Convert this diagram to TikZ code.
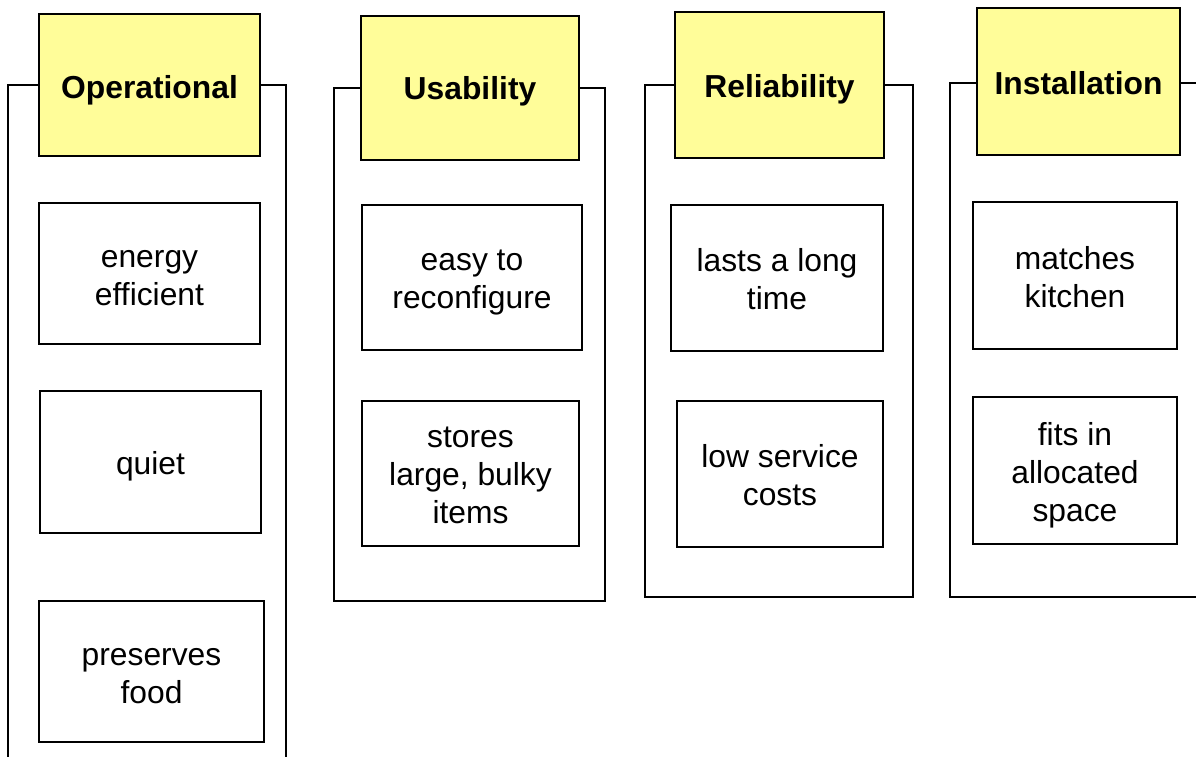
\documentclass[tikz,border=0pt]{standalone}
\usepackage{fontspec}
\setmainfont{Liberation Sans}
\definecolor{hdrfill}{RGB}{255,253,153}
\tikzset{
  frame/.style={draw=black, line width=1.8pt},
  hdr/.style={draw=black, line width=1.8pt, fill=hdrfill, inner sep=0pt},
  item/.style={draw=black, line width=1.8pt, fill=white, inner sep=0pt},
  htxt/.style={inner sep=0pt, align=center, font=\fontsize{31.8}{38}\selectfont\bfseries},
  itxt/.style={inner sep=0pt, align=center, font=\fontsize{31.8}{38}\selectfont}
}
\begin{document}
\begin{tikzpicture}[x=1pt, y=-1pt]
\useasboundingbox (0,0) rectangle (1196,757);
\clip (0,0) rectangle (1196,757);
% frames
\draw[frame] (8,85) rectangle (286,800);
\draw[frame] (334,88) rectangle (605,601);
\draw[frame] (645,85) rectangle (913,597);
\draw[frame] (950,83) rectangle (1240,597);
% Operational
\node[hdr, minimum width=221pt, minimum height=142pt] (h1) at (149.5,85) {};
\node[htxt] at ([yshift=-5pt]h1.center) {Operational};
\node[item, minimum width=221pt, minimum height=141pt] (o1) at (149.5,273.5) {};
\node[itxt] at ([yshift=-5pt]o1.center) {energy\\efficient};
\node[item, minimum width=221pt, minimum height=142pt] (o2) at (150.5,462) {};
\node[itxt] at ([yshift=-4pt]o2.center) {quiet};
\node[item, minimum width=225pt, minimum height=141pt] (o3) at (151.5,671.5) {};
\node[itxt] at ([yshift=-5pt]o3.center) {preserves\\food};
% Usability
\node[hdr, minimum width=218pt, minimum height=144pt] (h2) at (470,88) {};
\node[htxt] at ([yshift=-3pt]h2.center) {Usability};
\node[item, minimum width=220pt, minimum height=145pt] (u1) at (472,277.5) {};
\node[itxt] at ([yshift=-5pt]u1.center) {easy to\\reconfigure};
\node[item, minimum width=217pt, minimum height=145pt] (u2) at (470.5,473.5) {};
\node[itxt] at ([yshift=-2pt]u2.center) {stores\\large, bulky\\items};
% Reliability
\node[hdr, minimum width=209pt, minimum height=146pt] (h3) at (779.5,85) {};
\node[htxt] at ([yshift=-4pt]h3.center) {Reliability};
\node[item, minimum width=212pt, minimum height=146pt] (r1) at (777,278) {};
\node[itxt] at ([yshift=-1.5pt]r1.center) {lasts a long\\time};
\node[item, minimum width=206pt, minimum height=146pt] (r2) at (780,474) {};
\node[itxt] at ([yshift=-1pt]r2.center) {low service\\costs};
% Installation
\node[hdr, minimum width=203pt, minimum height=147pt] (h4) at (1078.5,81.5) {};
\node[htxt] at ([yshift=-2pt]h4.center) {Installation};
\node[item, minimum width=204pt, minimum height=147pt] (i1) at (1075,275.5) {};
\node[itxt] at ([yshift=-1.5pt]i1.center) {matches\\kitchen};
\node[item, minimum width=204pt, minimum height=147pt] (i2) at (1075,470.5) {};
\node[itxt] at ([yshift=-5pt]i2.center) {fits in\\allocated\\space};
\end{tikzpicture}
\end{document}
